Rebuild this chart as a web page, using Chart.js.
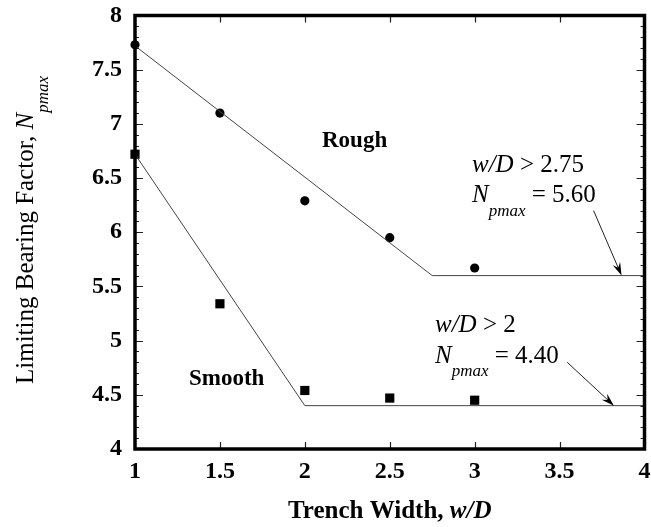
<!DOCTYPE html>
<html>
<head>
<meta charset="utf-8">
<script src="https://cdn.jsdelivr.net/npm/chart.js@4"></script>
<style>
  html, body { margin: 0; padding: 0; background: #fff; }
  canvas { display: block; }
</style>
</head>
<body>
<canvas id="c" width="651" height="527"></canvas>
<script>
// ---- data ----
const widths = [1, 1.5, 2, 2.5, 3];
const roughValues = [7.73, 7.10, 6.29, 5.95, 5.67];
const smoothValues = [6.72, 5.34, 4.54, 4.47, 4.45];
const roughFitX = [1, 2.75, 4];
const roughFitY = [7.72, 5.60, 5.60];
const smoothFitX = [1, 2, 4];
const smoothFitY = [6.72, 4.40, 4.40];
const xTicks = [1, 1.5, 2, 2.5, 3, 3.5, 4];
const xTickLabels = ['1', '1.5', '2', '2.5', '3', '3.5', '4'];
const yTicks = [4, 4.5, 5, 5.5, 6, 6.5, 7, 7.5, 8];
const yTickLabels = ['4', '4.5', '5', '5.5', '6', '6.5', '7', '7.5', '8'];
const roughArrow = { from: [3.70, 6.20], to: [3.865, 5.60] };
const smoothArrow = { from: [3.545, 4.80], to: [3.82, 4.40] };

const SERIF = '"Liberation Serif", "Times New Roman", serif';

function pts(xs, ys) { return xs.map((x, i) => ({ x: x, y: ys[i] })); }

const decor = {
  id: 'decor',
  afterDraw(chart) {
    const ctx = chart.ctx;
    const a = chart.chartArea;
    const xs = chart.scales.x, ys = chart.scales.y;
    ctx.save();

    // arrows
    function arrow(ar) {
      const x1 = xs.getPixelForValue(ar.from[0]), y1 = ys.getPixelForValue(ar.from[1]);
      const x2 = xs.getPixelForValue(ar.to[0]), y2 = ys.getPixelForValue(ar.to[1]);
      const ang = Math.atan2(y2 - y1, x2 - x1);
      const L = 13, W = 4;
      ctx.strokeStyle = '#222';
      ctx.lineWidth = 1;
      ctx.beginPath();
      ctx.moveTo(x1, y1);
      ctx.lineTo(x2 - L * 0.6 * Math.cos(ang), y2 - L * 0.6 * Math.sin(ang));
      ctx.stroke();
      ctx.fillStyle = '#000';
      ctx.beginPath();
      ctx.moveTo(x2, y2);
      ctx.lineTo(x2 - L * Math.cos(ang) + W * Math.sin(ang), y2 - L * Math.sin(ang) - W * Math.cos(ang));
      ctx.lineTo(x2 - L * 0.65 * Math.cos(ang), y2 - L * 0.65 * Math.sin(ang));
      ctx.lineTo(x2 - L * Math.cos(ang) - W * Math.sin(ang), y2 - L * Math.sin(ang) + W * Math.cos(ang));
      ctx.closePath();
      ctx.fill();
    }
    arrow(roughArrow);
    arrow(smoothArrow);

    // ticks (inside)
    ctx.strokeStyle = '#222';
    ctx.lineWidth = 1.2;
    ctx.beginPath();
    xTicks.forEach(v => {
      if (v === xs.min || v === xs.max) return;
      const px = Math.round(xs.getPixelForValue(v)) + 0.5;
      ctx.moveTo(px, a.bottom); ctx.lineTo(px, a.bottom - 7);
      ctx.moveTo(px, a.top); ctx.lineTo(px, a.top + 7);
    });
    for (let k = 41; k < 80; k++) {
      const v = k / 10;
      const major = (k % 5 === 0);
      const len = major ? 8 : 4;
      const py = Math.round(ys.getPixelForValue(v)) + 0.5;
      ctx.moveTo(a.left, py); ctx.lineTo(a.left + len, py);
      ctx.moveTo(a.right, py); ctx.lineTo(a.right - len, py);
    }
    ctx.stroke();

    // frame
    ctx.strokeStyle = '#000';
    ctx.lineWidth = 3.5;
    ctx.strokeRect(a.left, a.top, a.right - a.left, a.bottom - a.top);

    // text helpers
    ctx.fillStyle = '#000';
    ctx.textBaseline = 'alphabetic';
    ctx.textAlign = 'left';
    function put(text, font, x, y) {
      ctx.font = font;
      ctx.fillText(text, x, y);
      return x + ctx.measureText(text).width;
    }

    // labels
    put('Rough', 'bold 23px ' + SERIF, 322, 147);
    put('Smooth', 'bold 23px ' + SERIF, 189, 385);

    // rough annotation
    let x = put('w/D', 'italic 25px ' + SERIF, 472, 172);
    put(' > 2.75', '25px ' + SERIF, x, 172);
    x = put('N', 'italic 25px ' + SERIF, 472, 202);
    x = put('pmax', 'italic 17px ' + SERIF, x, 216);
    put(' = 5.60', '25px ' + SERIF, x, 202);

    // smooth annotation
    x = put('w/D', 'italic 25px ' + SERIF, 435, 332);
    put(' > 2', '25px ' + SERIF, x, 332);
    x = put('N', 'italic 25px ' + SERIF, 435, 363);
    x = put('pmax', 'italic 17px ' + SERIF, x, 376);
    put(' = 4.40', '25px ' + SERIF, x, 363);

    // x title
    ctx.font = 'bold 25px ' + SERIF;
    const t1 = 'Trench Width, ';
    const w1 = ctx.measureText(t1).width;
    ctx.font = 'bold italic 25px ' + SERIF;
    const w2 = ctx.measureText('w/D').width;
    let sx = (a.left + a.right) / 2 - (w1 + w2) / 2;
    sx = put(t1, 'bold 25px ' + SERIF, sx, 518);
    put('w/D', 'bold italic 25px ' + SERIF, sx, 518);

    // y title (rotated)
    ctx.font = '25px ' + SERIF;
    const y1t = 'Limiting Bearing Factor, ';
    const yw1 = ctx.measureText(y1t).width;
    ctx.font = 'italic 25px ' + SERIF;
    const yw2 = ctx.measureText('N').width;
    ctx.font = 'italic 17px ' + SERIF;
    const yw3 = ctx.measureText('pmax').width;
    const total = yw1 + yw2 + yw3;
    ctx.translate(33, 230 + total / 2);
    ctx.rotate(-Math.PI / 2);
    let tx = put(y1t, '25px ' + SERIF, 0, 0);
    tx = put('N', 'italic 25px ' + SERIF, tx, 0);
    put('pmax', 'italic 17px ' + SERIF, tx, 15);

    ctx.restore();
  }
};

new Chart(document.getElementById('c'), {
  type: 'scatter',
  data: {
    datasets: [
      {
        label: 'Rough fit', type: 'line', data: pts(roughFitX, roughFitY),
        borderColor: '#444', borderWidth: 1, pointRadius: 0, fill: false, tension: 0, clip: false
      },
      {
        label: 'Smooth fit', type: 'line', data: pts(smoothFitX, smoothFitY),
        borderColor: '#444', borderWidth: 1, pointRadius: 0, fill: false, tension: 0, clip: false
      },
      {
        label: 'Rough', data: pts(widths, roughValues),
        pointStyle: 'circle', pointRadius: 4.6, backgroundColor: '#000', borderColor: '#000', borderWidth: 0, clip: false
      },
      {
        label: 'Smooth', data: pts(widths, smoothValues),
        pointStyle: 'rect', pointRadius: 6.5, backgroundColor: '#000', borderColor: '#000', borderWidth: 0, clip: false
      }
    ]
  },
  options: {
    responsive: false,
    animation: false,
    events: [],
    layout: { padding: { top: 15.5, right: 3, left: 0, bottom: 0 } },
    plugins: { legend: { display: false }, tooltip: { enabled: false } },
    scales: {
      x: {
        type: 'linear', min: 1, max: 4,
        afterBuildTicks(s) { s.ticks = xTicks.map(v => ({ value: v })); },
        afterFit(s) { s.height = 78; s.paddingLeft = 0; s.paddingRight = 0; },
        grid: { display: false, drawTicks: false },
        border: { display: false },
        ticks: {
          color: '#000', font: { family: SERIF, size: 24, weight: 'bold' }, padding: 8, maxRotation: 0, autoSkip: false,
          callback: (v) => xTickLabels[xTicks.indexOf(v)]
        }
      },
      y: {
        type: 'linear', min: 4, max: 8,
        afterBuildTicks(s) { s.ticks = yTicks.map(v => ({ value: v })); },
        afterFit(s) { s.width = 135; s.paddingTop = 0; s.paddingBottom = 0; },
        grid: { display: false, drawTicks: false },
        border: { display: false },
        ticks: {
          color: '#000', font: { family: SERIF, size: 24, weight: 'bold' }, padding: 13, autoSkip: false,
          callback: (v) => yTickLabels[yTicks.indexOf(v)]
        }
      }
    }
  },
  plugins: [decor]
});
</script>
</body>
</html>
